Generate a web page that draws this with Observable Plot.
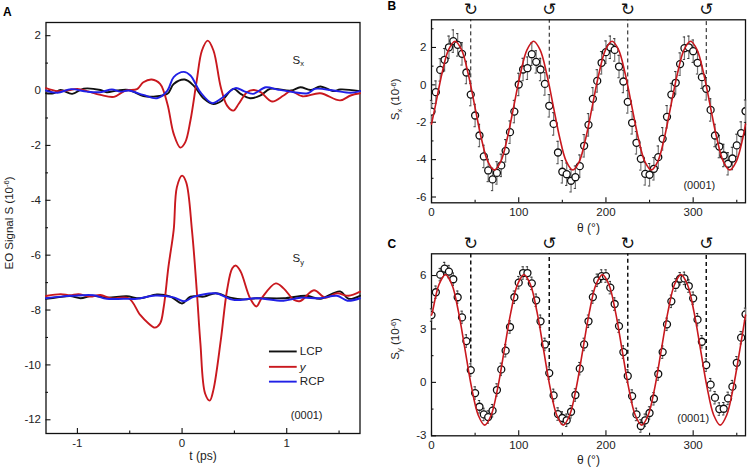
<!DOCTYPE html>
<html><head><meta charset="utf-8">
<script src="https://cdn.jsdelivr.net/npm/d3@7"></script>
<script src="https://cdn.jsdelivr.net/npm/@observablehq/plot@0.6"></script>
<style>
html,body{margin:0;padding:0;background:#fff}
#wrap{position:relative;width:747px;height:467px;overflow:hidden;font-family:"Liberation Sans",Arial,sans-serif}
#wrap svg{position:absolute;background:transparent;overflow:visible}
</style></head><body><div id="wrap"></div>
<script>
// ---------- Panel A: time traces ----------
const sxLcpT=[-1.30,-1.23,-1.16,-1.05,-.94,-.78,-.72,-.62,-.51,-.37,-.27,-.14,-.08,.025,.11,.21,.30,.38,.49,.56,.65,.75,.84,1.04,1.13,1.23,1.32,1.45,1.51,1.70];
const sxLcpV=[-.10,-.10,.02,-.12,.07,.02,-.06,0,.02,-.20,-.22,-.12,.24,.40,.18,-.30,-.49,-.37,.06,-.12,-.28,-.18,.06,0,.12,.02,.15,-.02,.04,-.02];
const sxYT=[-1.30,-1.19,-1.10,-1.00,-.91,-.78,-.65,-.54,-.43,-.37,-.29,-.21,-.14,-.08,-.016,.03,.08,.14,.19,.245,.30,.37,.43,.49,.54,.62,.68,.75,.86,.97,1.04,1.15,1.32,1.51,1.61,1.70];
const sxYV=[.09,-.02,0,.06,-.02,-.16,-.23,0,.05,.30,.40,.24,-.49,-1.58,-2.08,-1.89,-1.09,.36,1.46,1.82,1.46,.12,-.55,-.73,-.49,-.06,.02,-.06,-.40,-.18,-.02,-.21,-.10,-.36,-.18,-.10];
const sxRcpT=[-1.30,-1.19,-1.06,-.91,-.78,-.67,-.59,-.51,-.37,-.24,-.14,-.08,.016,.08,.175,.29,.37,.51,.59,.68,.80,.91,1.07,1.20,1.27,1.45,1.61,1.70];
const sxRcpV=[0,-.08,.05,-.04,-.06,.04,-.04,0,-.16,-.28,0,.49,.68,.55,-.06,-.46,-.30,.09,-.02,-.12,.12,.04,-.06,-.10,.06,0,-.08,-.02];
const syLcpT=[-1.30,-1.19,-1.07,-.97,-.86,-.72,-.53,-.40,-.24,-.11,0,.08,.21,.32,.46,.59,.71,.97,1.19,1.32,1.51,1.59,1.70];
const syLcpV=[-7.59,-7.54,-7.49,-7.57,-7.48,-7.55,-7.50,-7.57,-7.43,-7.51,-7.76,-7.51,-7.51,-7.39,-7.55,-7.61,-7.57,-7.57,-7.48,-7.59,-7.32,-7.59,-7.48];
const syYT=[-1.30,-1.16,-1.07,-.99,-.88,-.78,-.68,-.51,-.40,-.32,-.26,-.21,-.175,-.13,-.08,-.05,0,.04,.095,.14,.175,.22,.265,.30,.37,.43,.48,.515,.56,.65,.71,.76,.895,.97,1.07,1.13,1.26,1.37,1.48,1.59,1.70];
const syYV=[-7.49,-7.42,-7.46,-7.42,-7.51,-7.45,-7.57,-7.57,-8.18,-8.49,-8.64,-8.49,-7.88,-6.42,-5.08,-3.53,-3.10,-3.35,-5.11,-7.27,-9.2,-11.04,-11.3,-10.9,-9.1,-7.27,-6.48,-6.38,-6.6,-7.57,-7.87,-7.57,-7.03,-7.21,-7.63,-7.67,-7.28,-7.55,-7.39,-7.48,-7.33];
const syRcpT=[-1.30,-1.16,-1.04,-.85,-.72,-.56,-.43,-.255,-.08,.02,.11,.32,.49,.71,.97,1.13,1.32,1.48,1.58,1.70];
const syRcpV=[-7.57,-7.51,-7.48,-7.46,-7.59,-7.59,-7.59,-7.47,-7.54,-7.68,-7.52,-7.39,-7.63,-7.57,-7.66,-7.55,-7.57,-7.48,-7.66,-7.57];
const legendNames=["LCP","y","RCP"];
const legendColors=["#111111","#c9181e","#2020e6"];
const legendY=[-9.51,-10.07,-10.61];

// ---------- Panels B and C: angle scans, 5 degree steps ----------
const theta=d3.range(0,361,5);
const sxData=[-1.43,-.39,.80,1.34,2.01,2.34,2.14,1.66,.66,-.52,-1.64,-2.71,-3.83,-4.58,-5.06,-4.71,-4.31,-3.53,-2.53,-1.43,.02,.82,.89,1.64,1.23,.82,.05,-1.12,-2.09,-3.62,-4.65,-4.78,-5.13,-4.94,-4.35,-3.26,-2.14,-.75,.21,1.18,1.75,2.01,1.87,.98,.18,-.91,-2.03,-3.10,-3.96,-4.76,-4.81,-4.49,-3.87,-2.89,-1.71,-.52,.11,1.11,1.96,2.01,1.80,1.18,.41,-.21,-1.34,-2.71,-3.30,-3.78,-4.22,-3.94,-3.24,-2.58,-1.41];
const syData=[3.78,5.06,6.05,6.39,6.22,5.79,4.78,3.65,2.32,.69,-.60,-1.37,-1.80,-1.95,-1.59,-.43,.73,1.78,3.11,4.78,5.60,6.14,6.14,5.56,4.61,3.43,2.13,.52,-.73,-1.78,-2.0,-2.13,-1.65,-.71,.77,2.13,3.43,4.79,5.73,5.97,5.97,5.32,4.40,3.16,1.70,.36,-.77,-1.80,-2.45,-2.13,-1.72,-.92,.47,1.70,3.26,4.55,5.47,5.82,5.84,5.41,4.72,3.52,2.28,.97,-.13,-.86,-1.50,-1.48,-.90,-.24,1.10,2.51,3.82];
const sxErr=0.6, syErr=0.35;
const sxFitT=[0,4.5,12,19.5,27,34.5,42,49.5,57,64.5,72,79.5,87,94.5,102,109.5,117,124.5,132,139.5,147,154.5,162,169.5,177,184.5,192,199.5,207,214.5,222,229.5,237,244.5,252,259.5,267,274.5,282,289.5,297,304.5,312,319.5,327,334.5,342,349.5,357,360];
const sxFitV=[-2.1,-1.11,.61,1.87,2.33,1.87,.61,-1.11,-2.83,-4.09,-4.55,-4.09,-2.83,-1.11,.61,1.87,2.33,1.87,.61,-1.11,-2.83,-4.09,-4.55,-4.09,-2.83,-1.11,.61,1.87,2.33,1.87,.61,-1.11,-2.83,-4.09,-4.55,-4.09,-2.83,-1.11,.61,1.87,2.33,1.87,.61,-1.11,-2.83,-4.09,-4.55,-4.09,-2.83,-2.1];
const syFitT=[0,1,8.5,16,23.5,31,38.5,46,53.5,61,68.5,76,83.5,91,98.5,106,113.5,121,128.5,136,143.5,151,158.5,166,173.5,181,188.5,196,203.5,211,218.5,226,233.5,241,248.5,256,263.5,271,278.5,286,293.5,301,308.5,316,323.5,331,338.5,346,353.5,360];
const syFitV=[3.78,3.94,5.48,6.05,5.48,3.94,1.83,-.29,-1.83,-2.4,-1.83,-.29,1.83,3.94,5.48,6.05,5.48,3.94,1.83,-.29,-1.83,-2.4,-1.83,-.29,1.83,3.94,5.48,6.05,5.48,3.94,1.83,-.29,-1.83,-2.4,-1.83,-.29,1.83,3.94,5.48,6.05,5.48,3.94,1.83,-.29,-1.83,-2.4,-1.83,-.29,1.83,3.78];
const rotAngles=[45,135,225,315];
const rotGlyphs=["\u21BB","\u21BA","\u21BB","\u21BA"];
const dashEndB=[0,.3,-.7,-.2];
const dashEndC=[.7,.5,.4,1];

const FONT='"Liberation Sans",Arial,sans-serif';
const zip=(a,b)=>a.map((x,i)=>({x,y:b[i]}));
const style={fontFamily:FONT,fontSize:"11.5px",color:"#222",background:"transparent"};
const RED="#c9181e",BLACK="#111111",BLUE="#2020e6";

function axes(xMajor,xMinor,yMajor,yMinor){
  const o={stroke:"#111",strokeWidth:1.1};
  return [
    Plot.axisX({ticks:xMajor,tickSize:-5,tickPadding:10,tickFormat:d=>String(d),label:null,...o}),
    Plot.axisX({ticks:xMinor,tickSize:-2.5,fill:"none",label:null,...o}),
    Plot.axisY({ticks:yMajor,tickSize:-5,tickPadding:10,tickFormat:d=>String(d),label:null,...o}),
    Plot.axisY({ticks:yMinor,tickSize:-2.5,fill:"none",label:null,...o}),
    Plot.frame({stroke:"#111",strokeWidth:1.3})
  ];
}
function tline(t,v,stroke){return Plot.line(zip(t,v),{x:"x",y:"y",stroke,strokeWidth:1.9,curve:"catmull-rom"});}

function rich(svg,plain,parts){
  svg.querySelectorAll("text").forEach(el=>{
    if(el.textContent!==plain) return;
    el.textContent="";
    let shift=0;
    parts.forEach(p=>{
      const ts=document.createElementNS("http://www.w3.org/2000/svg","tspan");
      ts.textContent=p.t;
      const target=p.sup?-3.5:p.sub?2.5:0;
      ts.setAttribute("dy",target-shift);
      shift=target;
      if(p.sup||p.sub) ts.setAttribute("font-size","7.5");
      el.appendChild(ts);
    });
  });
}
const place=(svg,l,t)=>{svg.style.left=l+"px";svg.style.top=t+"px";document.getElementById("wrap").appendChild(svg);};

// Panel A
const A=Plot.plot({
  width:370,height:467,marginLeft:45.5,marginRight:10.5,marginTop:22,marginBottom:34,style,
  x:{domain:[-1.3,1.7],axis:null},y:{domain:[-12.5,2.48],axis:null},
  marks:[
    ...axes([-1,0,1],[-.5,.5,1.5],[2,0,-2,-4,-6,-8,-10,-12],[1,-1,-3,-5,-7,-9,-11]),
    tline(sxLcpT,sxLcpV,BLACK),tline(syLcpT,syLcpV,BLACK),
    tline(sxYT,sxYV,RED),tline(syYT,syYV,RED),
    tline(sxRcpT,sxRcpV,BLUE),tline(syRcpT,syRcpV,BLUE),
    Plot.ruleY(legendY,{y:d=>d,x1:.835,x2:1.1,stroke:(d,i)=>legendColors[i],strokeWidth:1.9}),
    Plot.text(legendNames.filter(d=>d!=="y"),{x:1.125,y:d=>legendY[legendNames.indexOf(d)],text:d=>d,textAnchor:"start",fontSize:11.7,fill:"#222"}),
    Plot.text(legendNames.filter(d=>d==="y"),{x:1.125,y:d=>legendY[legendNames.indexOf(d)],text:d=>d,textAnchor:"start",fontSize:11.7,fontStyle:"italic",fill:"#222"}),
    Plot.text(["(0001)"],{x:1.19,y:-11.84,text:d=>d,fontSize:11,fill:"#222"}),
    Plot.text(["Sx"],{x:1.11,y:1.12,text:d=>d,fontSize:11.5,fill:"#222"}),
    Plot.text(["Sy"],{x:1.11,y:-6.13,text:d=>d,fontSize:11.5,fill:"#222"}),
    Plot.text(["t (ps)"],{frameAnchor:"bottom",lineAnchor:"middle",dy:23,text:d=>d,fontSize:12,fill:"#222"}),
    Plot.text(["EO Signal S (10-6)"],{frameAnchor:"left",textAnchor:"middle",dx:-37,dy:-5,rotate:-90,text:d=>d,fontSize:11.5,fill:"#222"}),
    Plot.text(["A"],{frameAnchor:"top-left",dx:-43,dy:-15,text:d=>d,fontSize:12,fontWeight:"bold",fill:"#000",textAnchor:"start"})
  ]
});
rich(A,"Sx",[{t:"S"},{t:"x",sub:1}]);
rich(A,"Sy",[{t:"S"},{t:"y",sub:1}]);
rich(A,"EO Signal S (10-6)",[{t:"EO Signal S (10"},{t:"-6",sup:1},{t:")"}]);
place(A,0,0);

function scan(opts){
  const pts=theta.map((t,i)=>({t,v:opts.data[i]}));
  const e=opts.err, cap=1.3;
  const svg=Plot.plot({
    width:367,height:opts.height,marginLeft:51,marginRight:2,marginTop:opts.top,marginBottom:opts.bottom,style,
    x:{domain:[0,360],axis:null},y:{domain:opts.yDomain,axis:null},
    marks:[
      ...axes([0,100,200,300],[50,150,250,350],opts.yMajor,opts.yMinor),
      Plot.ruleX(rotAngles,{x:d=>d,y1:(d,i)=>opts.dashEnd[i],y2:opts.yDomain[1],stroke:"#111",strokeWidth:opts.dashW,strokeDasharray:"4,3"}),
      Plot.ruleX(pts,{x:"t",y1:d=>d.v-e,y2:d=>d.v+e,stroke:"#777",strokeWidth:1.2}),
      Plot.ruleY(pts,{y:d=>d.v+e,x1:d=>d.t-cap,x2:d=>d.t+cap,stroke:"#222",strokeWidth:.9}),
      Plot.ruleY(pts,{y:d=>d.v-e,x1:d=>d.t-cap,x2:d=>d.t+cap,stroke:"#222",strokeWidth:.9}),
      Plot.dot(pts,{x:"t",y:"v",r:3.5,fill:"#fff",stroke:"#111",strokeWidth:1.3,clip:true}),
      Plot.line(zip(opts.fitT,opts.fitV),{x:"x",y:"y",stroke:RED,strokeWidth:1.6,curve:"catmull-rom"}),
      Plot.text(rotAngles,{x:d=>d,frameAnchor:"top",lineAnchor:"middle",dy:-10.3,text:(d,i)=>rotGlyphs[i],fontFamily:"DejaVu Sans",fontSize:17,fill:"#111"}),
      Plot.text(["(0001)"],{x:opts.noteX,y:opts.noteY,text:d=>d,fontSize:11,fill:"#222"}),
      Plot.text(["\u03B8 (\u00B0)"],{frameAnchor:"bottom",lineAnchor:"middle",dy:opts.xLabelDy,text:d=>d,fontSize:12,fill:"#222"}),
      Plot.text([opts.yLabel],{frameAnchor:"left",textAnchor:"middle",dx:-36,dy:opts.yLabelDy,rotate:-90,text:d=>d,fontSize:11.5,fill:"#222"}),
      Plot.text([opts.letter],{frameAnchor:"top-left",dx:-44,dy:opts.letterDy,text:d=>d,fontSize:12,fontWeight:"bold",fill:"#000",textAnchor:"start"})
    ]
  });
  rich(svg,opts.yLabel,[{t:"S"},{t:opts.yLabel[1],sub:1},{t:" (10"},{t:"-6",sup:1},{t:")"}]);
  return svg;
}
place(scan({height:232,top:19.3,bottom:29.7,yDomain:[-6.31,3.48],data:sxData,err:sxErr,fitT:sxFitT,fitV:sxFitV,
  yMajor:[2,0,-2,-4,-6],yMinor:[3,1,-1,-3,-5],dashEnd:dashEndB,dashW:1,noteX:307,noteY:-5.39,
  xLabelDy:25.5,yLabel:"Sx (10-6)",yLabelDy:-12,letter:"B",letterDy:-18}),380,0);
place(scan({height:235,top:21.3,bottom:31.7,yDomain:[-3,7.22],data:syData,err:syErr,fitT:syFitT,fitV:syFitV,
  yMajor:[6,3,0,-3],yMinor:[4.5,1.5,-1.5],dashEnd:dashEndC,dashW:1.5,noteX:300,noteY:-2.04,
  xLabelDy:24.4,yLabel:"Sy (10-6)",yLabelDy:-6,letter:"C",letterDy:-14}),380,232);
</script></body></html>
